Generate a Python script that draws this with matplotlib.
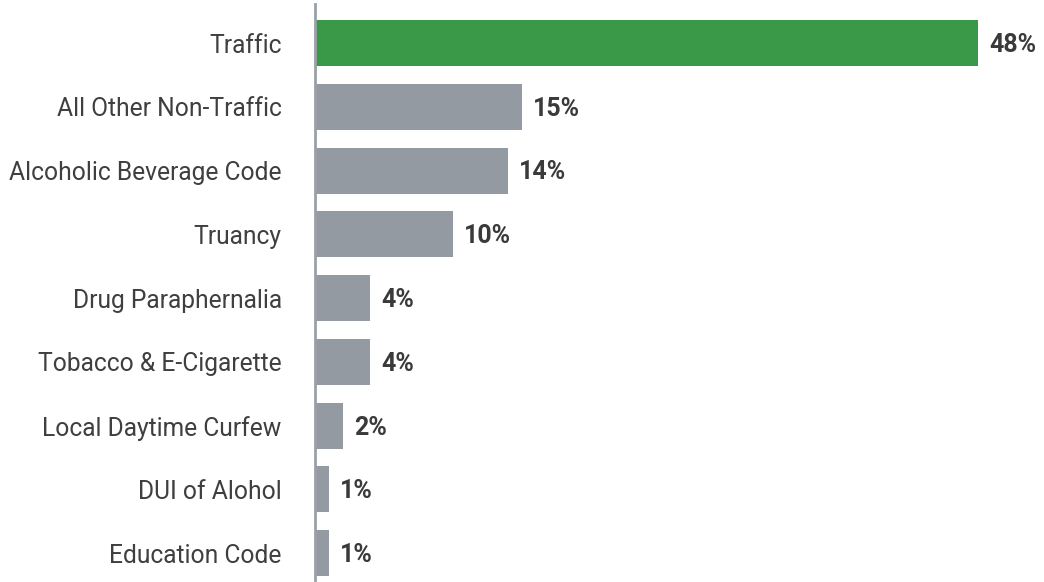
import matplotlib
matplotlib.use("Agg")
import matplotlib.pyplot as plt

categories = ["Traffic", "All Other Non-Traffic", "Alcoholic Beverage Code", "Truancy",
              "Drug Paraphernalia", "Tobacco & E-Cigarette", "Local Daytime Curfew",
              "DUI of Alohol", "Education Code"]
values = [48, 15, 14, 10, 4, 4, 2, 1, 1]
labels = ["48%", "15%", "14%", "10%", "4%", "4%", "2%", "1%", "1%"]
colors = ["#3a9948"] + ["#939aa1"] * 8

plt.rcParams['font.family'] = ['Roboto', 'DejaVu Sans']
fig = plt.figure(figsize=(10.44, 5.82), dpi=100)
ax = fig.add_axes([315/1044, 2/582, 729/1044, 576/582])
ypos = list(range(len(categories)))
ax.barh(ypos, values, height=0.72, color=colors)
ax.set_xlim(0, 729/13.8125)
ax.set_ylim(8.42, -0.612)
ax.set_yticks(ypos)
ax.set_yticklabels(categories, fontsize=17.7, color="#3f3f3f")
ax.tick_params(axis='y', length=0, pad=24)
ax.set_xticks([])
for s in ["top", "right", "bottom"]:
    ax.spines[s].set_visible(False)
ax.spines["left"].set_color("#9aa0a6")
ax.spines["left"].set_linewidth(2)
for y, v, l in zip(ypos, values, labels):
    ax.text(v + 0.8, y + 0.03, l, va="center", ha="left", fontsize=18, fontweight="bold", color="#3a3a3a")
fig.savefig("out.png", dpi=100)
